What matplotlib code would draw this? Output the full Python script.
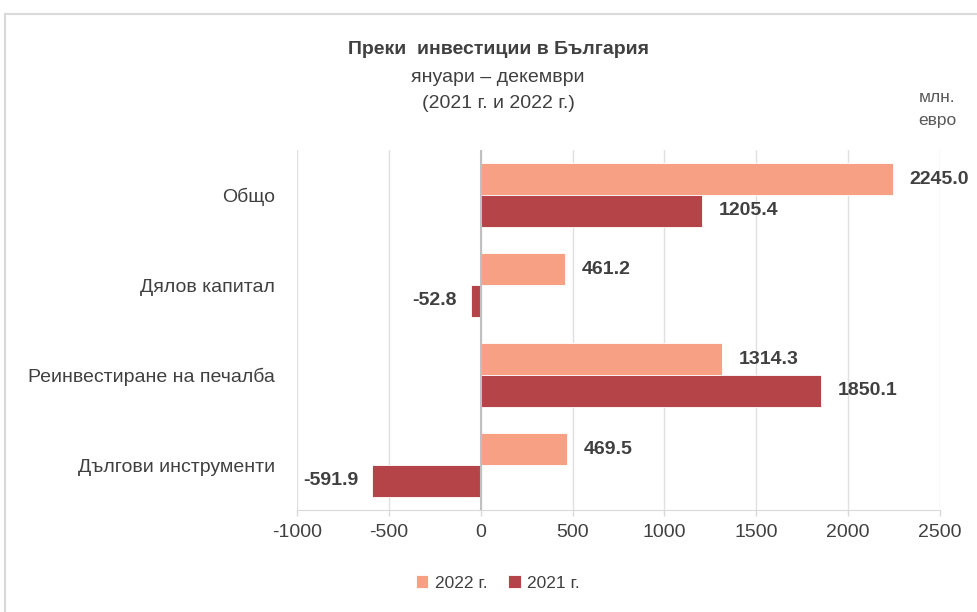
import matplotlib.pyplot as plt
import matplotlib.patches as mpatches
import numpy as np

categories = ['Общо', 'Дялов капитал', 'Реинвестиране на печалба', 'Дългови инструменти']
values_2022 = [2245.0, 461.2, 1314.3, 469.5]
values_2021 = [1205.4, -52.8, 1850.1, -591.9]
series_names = ['2022 г.', '2021 г.']
x_ticks = [-1000, -500, 0, 500, 1000, 1500, 2000, 2500]

plt.rcParams['font.family'] = ['Liberation Sans Narrow', 'Liberation Sans', 'DejaVu Sans']
text_color = '#404040'
color_2022 = '#F7A083'
color_2021 = '#B54448'

fig = plt.figure(figsize=(9.77, 6.12), dpi=100)
ax = fig.add_axes([297 / 977, 1 - 510 / 612, (940 - 297) / 977, 360 / 612])

y = np.arange(len(categories))
h = 0.355
bars_22 = ax.barh(y - h / 2, values_2022, height=h, color=color_2022,
                  edgecolor='white', linewidth=0.6, label=series_names[0], zorder=3)
bars_21 = ax.barh(y + h / 2, values_2021, height=h, color=color_2021,
                  edgecolor='white', linewidth=0.6, label=series_names[1], zorder=3)

for bars, vals in [(bars_22, values_2022), (bars_21, values_2021)]:
    for b, v in zip(bars, vals):
        yc = b.get_y() + b.get_height() / 2
        if v >= 0:
            ax.annotate(f'{v:.1f}', (v, yc), xytext=(12, 0), textcoords='offset points',
                        ha='left', va='center', fontsize=14, fontweight='bold', color=text_color)
        else:
            ax.annotate(f'{v:.1f}', (v, yc), xytext=(-10, 0), textcoords='offset points',
                        ha='right', va='center', fontsize=14, fontweight='bold', color=text_color)

ax.set_xlim(-1000, 2500)
ax.set_ylim(len(categories) - 0.5, -0.5)
ax.set_xticks(x_ticks)
ax.set_xticklabels([str(t) for t in x_ticks])
ax.set_yticks(y)
ax.set_yticklabels(categories)
ax.grid(axis='x', color='#e0e0e0', linewidth=1, zorder=0)
ax.axvline(0, color='#c0c0c0', linewidth=1.5, zorder=4)
for s in ['top', 'right', 'left']:
    ax.spines[s].set_visible(False)
ax.spines['bottom'].set_color('#d9d9d9')
ax.tick_params(axis='x', colors='#d9d9d9', length=4, width=1, pad=6, labelsize=14, labelcolor=text_color)
ax.tick_params(axis='y', length=0, pad=16, labelsize=14, labelcolor=text_color)

fig.text(498 / 977, 1 - 50 / 612, 'Преки  инвестиции в България', ha='center', va='center',
         fontsize=14, fontweight='bold', color=text_color)
fig.text(498 / 977, 1 - 77 / 612, 'януари – декември', ha='center', va='center',
         fontsize=14, color=text_color)
fig.text(498 / 977, 1 - 103 / 612, '(2021 г. и 2022 г.)', ha='center', va='center',
         fontsize=14, color=text_color)
fig.text(937 / 977, 1 - 97 / 612, 'млн.', ha='center', va='center', fontsize=12.5, color='#595959')
fig.text(937 / 977, 1 - 121 / 612, 'евро', ha='center', va='center', fontsize=12.5, color='#595959')

fig.legend(handles=[bars_22, bars_21], labels=series_names, loc='center',
           bbox_to_anchor=(498 / 977, 1 - 583 / 612), ncol=2, frameon=False,
           fontsize=12.5, handlelength=0.7, handleheight=0.7, handletextpad=0.4,
           columnspacing=1.2, labelcolor=text_color)

border = mpatches.Rectangle((5 / 977, -0.1), 1.2, 1.1 - 14 / 612, transform=fig.transFigure,
                            fill=False, edgecolor='#d9d9d9', linewidth=1.5)
fig.patches.append(border)

fig.savefig('out.png', dpi=100)
